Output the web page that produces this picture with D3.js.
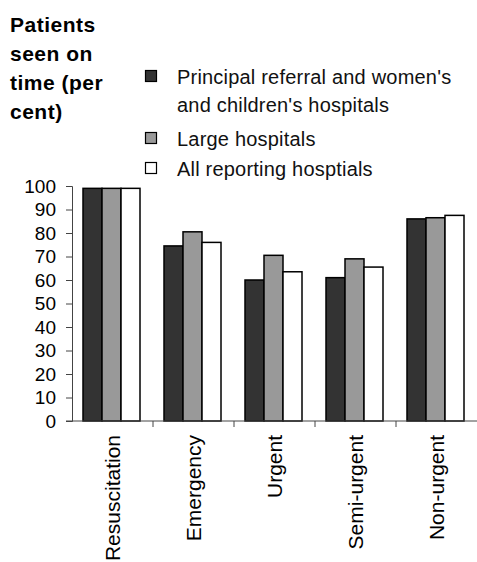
<!DOCTYPE html>
<html>
<head>
<meta charset="utf-8">
<script src="https://cdn.jsdelivr.net/npm/d3@7"></script>
<style>
  body { margin: 0; background: #fff; }
  svg { display: block; font-family: Arial, "Liberation Sans", sans-serif; }
</style>
</head>
<body>
<div id="chart"></div>
<script>
// ========================================
// Data
// ========================================
const categories = ['Resuscitation', 'Emergency', 'Urgent', 'Semi-urgent', 'Non-urgent'];
const seriesNames = [
  "Principal referral and women's and children's hospitals",
  'Large hospitals',
  'All reporting hosptials'
];
const principal = [99, 74.5, 60, 61, 86];
const large = [99, 80.5, 70.5, 69, 86.5];
const allReporting = [99, 76, 63.5, 65.5, 87.5];
const yTicks = [0, 10, 20, 30, 40, 50, 60, 70, 80, 90, 100];

const colors = ['#333333', '#999999', '#ffffff'];
const seriesValues = [principal, large, allReporting];

// ========================================
// Dimensions
// ========================================
const width = 477, height = 562;
const plotLeft = 72, plotRight = 477, plotTop = 186, plotBottom = 421;

const svg = d3.select('#chart').append('svg')
  .attr('width', width)
  .attr('height', height);

// scales
const x0 = d3.scaleBand().domain(categories).range([plotLeft, plotRight]).padding(0);
const x1 = d3.scaleBand().domain(d3.range(3)).range([11, 68]).padding(0);
const y = d3.scaleLinear().domain([0, 100]).range([plotBottom, plotTop]);

// ---- title
const titleLines = ['Patients', 'seen on', 'time (per', 'cent)'];
svg.append('g').selectAll('text')
  .data(titleLines)
  .enter().append('text')
    .attr('x', 10)
    .attr('y', (d, i) => 32 + i * 29)
    .style('font-size', '21px')
    .style('font-weight', 'bold')
    .style('letter-spacing', '0.5px')
    .text(d => d);

// ---- legend
const legendItems = [
  { lines: ["Principal referral and women's", "and children's hospitals"], y: 84 },
  { lines: ['Large hospitals'], y: 146 },
  { lines: ['All reporting hosptials'], y: 176 }
];
const legend = svg.append('g');
legendItems.forEach((item, i) => {
  legend.append('rect')
    .attr('x', 145.5)
    .attr('y', item.y - 13.5)
    .attr('width', 11)
    .attr('height', 11)
    .attr('fill', colors[i])
    .attr('stroke', '#000')
    .attr('stroke-width', 1.2);
  item.lines.forEach((line, j) => {
    legend.append('text')
      .attr('x', 177)
      .attr('y', item.y + j * 28)
      .style('font-size', '20px')
      .style('letter-spacing', '0.2px')
      .attr('fill', '#111')
      .text(line);
  });
});

// ---- y axis
const yAxis = svg.append('g')
  .attr('transform', 'translate(' + plotLeft + ',0)')
  .call(d3.axisLeft(y).tickValues(yTicks).tickSize(6).tickPadding(10));
yAxis.select('.domain').attr('stroke', '#444');
yAxis.selectAll('.tick line').attr('stroke', '#444');
yAxis.selectAll('text')
  .style('font-size', '19px')
  .style('font-family', 'Arial, "Liberation Sans", sans-serif')
  .attr('fill', '#000');

// ---- bars
const groups = svg.append('g').selectAll('g')
  .data(categories)
  .enter().append('g')
    .attr('transform', d => 'translate(' + x0(d) + ',0)');

groups.selectAll('rect')
  .data((d, ci) => seriesValues.map((vals, si) => ({ s: si, v: vals[ci] })))
  .enter().append('rect')
    .attr('x', d => x1(d.s))
    .attr('y', d => y(d.v))
    .attr('width', x1.bandwidth())
    .attr('height', d => y(0) - y(d.v))
    .attr('fill', d => colors[d.s])
    .attr('stroke', '#000')
    .attr('stroke-width', 1.5);

// ---- x axis (ticks on category boundaries)
const xAxis = svg.append('g').attr('transform', 'translate(0,' + plotBottom + ')');
xAxis.append('line')
  .attr('x1', plotLeft - 6).attr('x2', plotRight)
  .attr('stroke', '#444');
xAxis.selectAll('.xtick')
  .data(categories.slice(1))
  .enter().append('line')
    .attr('x1', d => x0(d)).attr('x2', d => x0(d))
    .attr('y1', 0).attr('y2', 6)
    .attr('stroke', '#444');
xAxis.selectAll('.xlabel')
  .data(categories)
  .enter().append('text')
    .attr('transform', d => 'translate(' + (x0(d) + x0.bandwidth() / 2) + ',14) rotate(-90)')
    .attr('text-anchor', 'end')
    .attr('dy', '0.35em')
    .style('font-size', '21px')
    .text(d => d);
</script>
</body>
</html>
